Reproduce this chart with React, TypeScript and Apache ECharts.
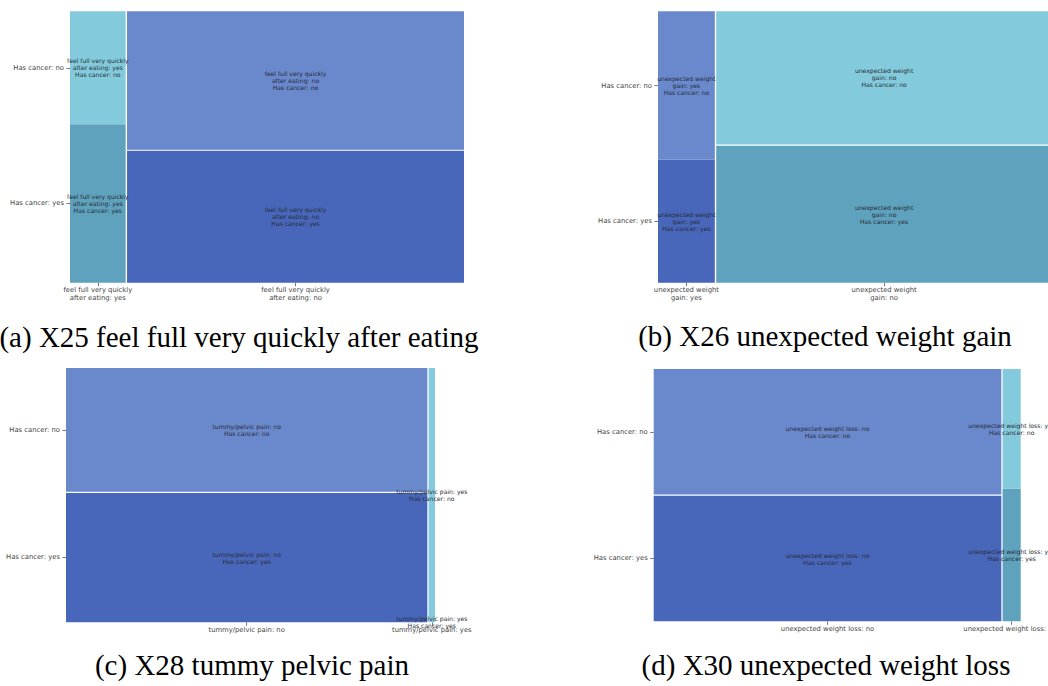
import React, { useEffect, useRef } from "react";
import * as echarts from "echarts";

// ---- data ----
const rowCategories = ["Has cancer: no", "Has cancer: yes"];

const aColumns = ["feel full very quickly\nafter eating: yes", "feel full very quickly\nafter eating: no"];
const aColumnShare = [0.143, 0.857];
const aCancerNoShare = [0.416, 0.512];

const bColumns = ["unexpected weight\ngain: yes", "unexpected weight\ngain: no"];
const bColumnShare = [0.146, 0.854];
const bCancerNoShare = [0.547, 0.493];

const cColumns = ["tummy/pelvic pain: no", "tummy/pelvic pain: yes"];
const cColumnShare = [0.981, 0.019];
const cCancerNoShare = [0.489, 1.0];

const dColumns = ["unexpected weight loss: no", "unexpected weight loss: yes"];
const dColumnShare = [0.949, 0.051];
const dCancerNoShare = [0.5, 0.474];

const captions = [
  "(a) X25 feel full very quickly after eating",
  "(b) X26 unexpected weight gain",
  "(c) X28 tummy pelvic pain",
  "(d) X30 unexpected weight loss",
];

// ---- styles ----
const CYAN = ["#83cbdc", "#5fa2bd"]; // [cancer no, cancer yes]
const BLUE = ["#6a88cc", "#4967ba"];

const panels = [
  { cols: aColumns, share: aColumnShare, noShare: aCancerNoShare, pal: [CYAN, BLUE], grid: { left: 70, top: 11.3, width: 394, height: 271.4 } },
  { cols: bColumns, share: bColumnShare, noShare: bCancerNoShare, pal: [BLUE, CYAN], grid: { left: 658, top: 11.3, width: 394, height: 271.4 } },
  { cols: cColumns, share: cColumnShare, noShare: cCancerNoShare, pal: [BLUE, CYAN], grid: { left: 66, top: 368, width: 369, height: 254.3 } },
  { cols: dColumns, share: dColumnShare, noShare: dCancerNoShare, pal: [BLUE, CYAN], grid: { left: 653.7, top: 369, width: 367, height: 252.3 } },
];

const captionPos = [
  [239, 337],
  [825, 336],
  [252, 665],
  [826, 665],
];

const GAP_X = 0.0035;
const GAP_Y = 0.005;

function nearest(arr: number[], v: number) {
  let bi = 0;
  let bd = Infinity;
  arr.forEach((a, i) => {
    const d = Math.abs(a - v);
    if (d < bd) {
      bd = d;
      bi = i;
    }
  });
  return bi;
}

function buildPanel(p: any, idx: number) {
  const tiles: any[] = [];
  const labels: string[] = [];
  const colors: string[] = [];
  const xCenters: number[] = [];
  let cum = 0;
  const n = p.share.length;
  p.cols.forEach((col: string, i: number) => {
    const s = p.share[i];
    const x0 = cum + (i > 0 ? GAP_X / 2 : 0);
    const x1 = cum + s - (i < n - 1 ? GAP_X / 2 : 0);
    xCenters.push((x0 + x1) / 2);
    const split = 1 - p.noShare[i];
    const gy = GAP_Y * s;
    const yesTop = Math.max(0, split - gy / 2);
    tiles.push([x0, x1, 0, yesTop]);
    labels.push(col + "\n" + rowCategories[1]);
    colors.push(p.pal[i][1]);
    const noBot = Math.min(1, split + gy / 2);
    tiles.push([x0, x1, noBot, 1]);
    labels.push(col + "\n" + rowCategories[0]);
    colors.push(p.pal[i][0]);
    cum += s;
  });
  const split0 = 1 - p.noShare[0];
  const yCenters = [(split0 + 1) / 2, split0 / 2];

  const xAxis = {
    type: "value",
    gridIndex: idx,
    min: 0,
    max: 1,
    splitLine: { show: false },
    axisLine: { show: false },
    axisTick: { show: true, customValues: xCenters, length: 3.5, lineStyle: { color: "#555", width: 0.8 } },
    axisLabel: {
      customValues: xCenters,
      formatter: (v: number) => p.cols[nearest(xCenters, v)],
      fontSize: 6.8,
      lineHeight: 7.4,
      color: "#444",
      fontFamily: "DejaVu Sans",
      margin: 4,
      align: "center",
      hideOverlap: false,
    },
  };
  const yAxis = {
    type: "value",
    gridIndex: idx,
    min: 0,
    max: 1,
    splitLine: { show: false },
    axisLine: { show: false },
    axisTick: { show: true, customValues: yCenters, length: 3.5, lineStyle: { color: "#555", width: 0.8 } },
    axisLabel: {
      customValues: yCenters,
      formatter: (v: number) => rowCategories[nearest(yCenters, v)],
      fontSize: 6.8,
      color: "#444",
      fontFamily: "DejaVu Sans",
      margin: 6,
    },
  };
  const series = {
    type: "custom",
    xAxisIndex: idx,
    yAxisIndex: idx,
    coordinateSystem: "cartesian2d",
    data: tiles,
    clip: false,
    renderItem: (params: any, api: any) => {
      const x0 = api.value(0);
      const x1 = api.value(1);
      const y0 = api.value(2);
      const y1 = api.value(3);
      const p0 = api.coord([x0, y1]);
      const p1 = api.coord([x1, y0]);
      const w = p1[0] - p0[0];
      const h = p1[1] - p0[1];
      return {
        type: "group",
        children: [
          {
            type: "rect",
            shape: { x: p0[0], y: p0[1], width: w, height: h },
            style: { fill: colors[params.dataIndex] },
          },
          {
            type: "text",
            z2: 10,
            style: {
              text: labels[params.dataIndex],
              x: p0[0] + w / 2,
              y: p0[1] + h / 2,
              align: "center",
              verticalAlign: "middle",
              fontSize: 6.1,
              lineHeight: 7,
              fill: "#262b36",
              fontFamily: "DejaVu Sans",
            },
          },
        ],
      };
    },
  };
  return { xAxis, yAxis, series };
}

export default function App() {
  const ref = useRef<HTMLDivElement>(null);
  useEffect(() => {
    if (!ref.current) return;
    const chart = echarts.init(ref.current, null, { renderer: "svg" });
    const built = panels.map((p, i) => buildPanel(p, i));
    chart.setOption({
      animation: false,
      backgroundColor: "#ffffff",
      grid: panels.map((p) => ({ ...p.grid, containLabel: false, outerBoundsMode: "none" })),
      xAxis: built.map((b) => b.xAxis),
      yAxis: built.map((b) => b.yAxis),
      series: built.map((b) => b.series),
      graphic: captions.map((c, i) => ({
        type: "text",
        x: captionPos[i][0],
        y: captionPos[i][1],
        style: {
          text: c,
          align: "center",
          verticalAlign: "middle",
          fontSize: 29,
          fontFamily: "Liberation Serif",
          fill: "#000",
        },
      })),
    });
    return () => chart.dispose();
  }, []);
  return (
    <div
      ref={ref}
      style={{ position: "fixed", left: 0, top: 0, width: 1048, height: 686, background: "#fff" }}
    />
  );
}
